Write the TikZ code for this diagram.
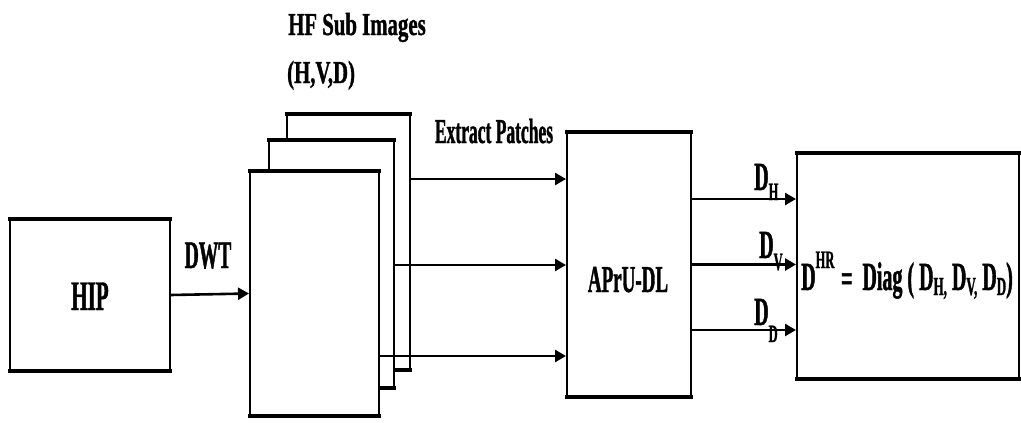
\documentclass[tikz,border=0pt]{standalone}
\usepackage{fontspec}
\setmainfont{Liberation Serif}[FakeStretch=0.5, BoldFeatures={FakeBold=1}]
\newfontfamily\widefont{Liberation Serif}[FakeStretch=0.65, BoldFeatures={FakeBold=1}]
\usetikzlibrary{arrows.meta}
\newcommand{\fsz}[1]{\fontsize{#1}{#1}\selectfont}
\newcommand{\lowsub}[3]{\raisebox{-#1pt}{\fsz{#2}#3}}
\begin{document}
\begin{tikzpicture}[x=1pt,y=-1pt,
  box/.style={draw, line width=2pt, fill=white, inner sep=0pt},
  arr/.style={line width=2.6pt, -{Triangle[length=11pt,width=12pt]}},
  lbl/.style={inner sep=0pt, font=\bfseries},
  thick edge/.style={line width=4.5pt}]
\useasboundingbox (0,0) rectangle (1021,423);
\newcommand{\edges}[1]{%
  \draw[thick edge] ([xshift=-1pt]#1.north west) -- ([xshift=1pt]#1.north east);
  \draw[thick edge] ([xshift=-1pt]#1.south west) -- ([xshift=1pt]#1.south east);}
% HIP
\node[box, minimum width=160pt, minimum height=150pt] (hip) at (90,295) {};
\edges{hip}
\node[lbl, anchor=base] (hiptext) at (90,310) {\fsz{42}HIP};
% sheets
\node[box, minimum width=123pt, minimum height=254pt] (back) at (348.5,242) {};
\edges{back}
\node[box, minimum width=125pt, minimum height=246pt] (mid) at (331.5,264) {};
\edges{mid}
\node[box, minimum width=129pt, minimum height=243pt] (front) at (314.5,293.5) {};
\edges{front}
% APrU-DL
\node[box, minimum width=124pt, minimum height=263pt] (apru) at (629,264.5) {};
\edges{apru}
\node[lbl, anchor=base] (aprutext) at (628,292) {\fsz{38}APrU-DL};
% result
\node[box, minimum width=222pt, minimum height=224pt] (res) at (908,266) {};
\edges{res}
\node[lbl, anchor=base west] (formula) at (801,290) {\fsz{40}D\raisebox{22pt}{\fsz{25}HR}\,\raisebox{-2pt}{=}\ \ Diag ( D\lowsub{5}{26}{H,} D\lowsub{5}{26}{V,} D\lowsub{5}{26}{D})};
% labels
\node[lbl, anchor=base] (dwt) at (208,268) {\fsz{39}DWT};
\node[lbl, anchor=base] (extract) at (494,143) {\fsz{35}Extract Patches};
\node[lbl, anchor=base west] (hf) at (288,35) {\widefont\bfseries\fsz{32}HF Sub Images};
\node[lbl, anchor=base west] (hvd) at (287,83) {\widefont\bfseries\fsz{32}(H,V,D)};
\node[lbl, anchor=base west] (dh) at (754,190) {\fsz{40}D\lowsub{10}{25}{H}};
\node[lbl, anchor=base west] (dv) at (759,258) {\fsz{40}D\lowsub{12}{25}{V}};
\node[lbl, anchor=base west] (dd) at (754,325) {\fsz{40}D\lowsub{17}{25}{D}};
% connectors
\draw[arr] (hip.east) -- (front.west);
\coordinate (p1) at ([yshift=63pt]back.east);
\coordinate (p2) at ([yshift=-1pt]mid.east);
\coordinate (p3) at ([yshift=-62.5pt]front.east);
\draw[arr] (p1) -- (p1 -| apru.west);
\draw[arr] (p2) -- (p2 -| apru.west);
\draw[arr] (p3) -- (p3 -| apru.west);
\coordinate (q1) at ([yshift=65.5pt]apru.east);
\coordinate (q2) at (apru.east);
\coordinate (q3) at ([yshift=-65.5pt]apru.east);
\draw[arr] (q1) -- (q1 -| res.west);
\draw[arr] (q2) -- (q2 -| res.west);
\draw[arr] (q3) -- (q3 -| res.west);
\end{tikzpicture}
\end{document}
